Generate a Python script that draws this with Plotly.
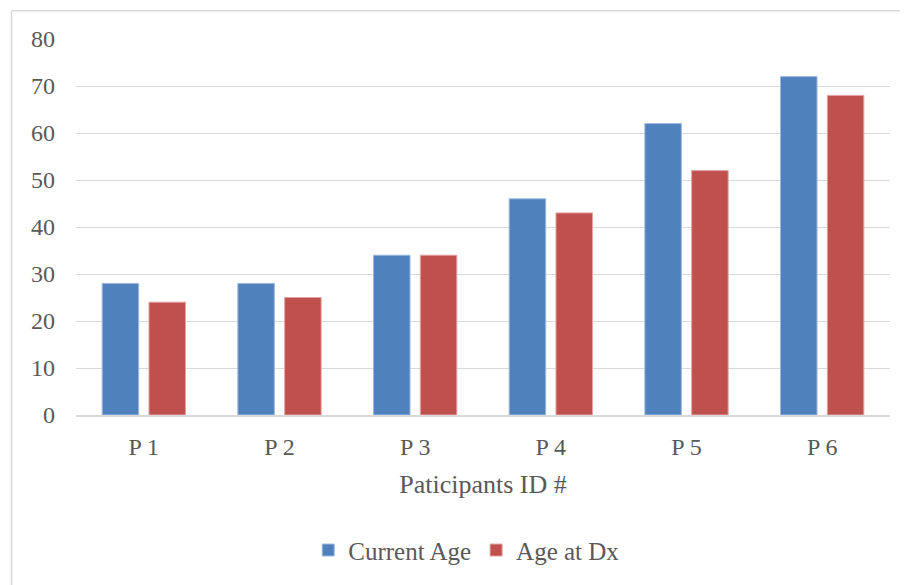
import plotly.graph_objects as go

categories = ["P 1", "P 2", "P 3", "P 4", "P 5", "P 6"]
current_age = [28, 28, 34, 46, 62, 72]
age_at_dx = [24, 25, 34, 43, 52, 68]
y_ticks = [0, 10, 20, 30, 40, 50, 60, 70, 80]

FONT = "Liberation Serif"
TXT = "#595959"

fig = go.Figure()
fig.add_trace(go.Bar(x=categories, y=current_age, name="Current Age",
                     marker=dict(color="#4F81BD", line=dict(color="#9DB9DE", width=1))))
fig.add_trace(go.Bar(x=categories, y=age_at_dx, name="Age at Dx",
                     marker=dict(color="#C0504D", line=dict(color="#E3A3A1", width=1))))

OFF = 8  # page body margin
W, H = 900, 577
L, R, T, B = 76 - OFF, 18, 39 - OFF, 577 - (417 - OFF)
pw, ph = W - L - R, H - T - B

def px(x):
    return (x - OFF - L) / pw

def py(y):
    return (H - B - (y - OFF)) / ph

fig.update_layout(
    width=W, height=H,
    margin=dict(l=L, r=R, t=T, b=B),
    paper_bgcolor="white", plot_bgcolor="white",
    barmode="group", bargap=0.31, bargroupgap=0.22,
    font=dict(family=FONT, color=TXT, size=24),
    xaxis=dict(showgrid=False, showline=True, linecolor="#D9D9D9", linewidth=2,
               ticks="", ticklabelstandoff=9, tickfont=dict(size=24),
               title=dict(text="Paticipants ID #", font=dict(size=26), standoff=16)),
    yaxis=dict(range=[0, 80], tickvals=y_ticks, showgrid=True, gridcolor="#D9D9D9",
               gridwidth=1, zeroline=False, showline=False, ticks="",
               ticklabelstandoff=20, tickfont=dict(size=24)),
    legend=dict(orientation="h", x=0.48, xanchor="center", y=py(553), yanchor="middle",
                font=dict(size=25), itemwidth=30, traceorder="normal"),
    showlegend=True,
    shapes=[
        dict(type="line", xref="paper", yref="paper", x0=px(11.5), x1=px(920),
             y0=py(10.5), y1=py(10.5), line=dict(color="#D9D9D9", width=1.5)),
        dict(type="line", xref="paper", yref="paper", x0=px(11.5), x1=px(11.5),
             y0=py(10.5), y1=py(600), line=dict(color="#D9D9D9", width=1.5)),
    ],
)

fig.write_html("out.html")
